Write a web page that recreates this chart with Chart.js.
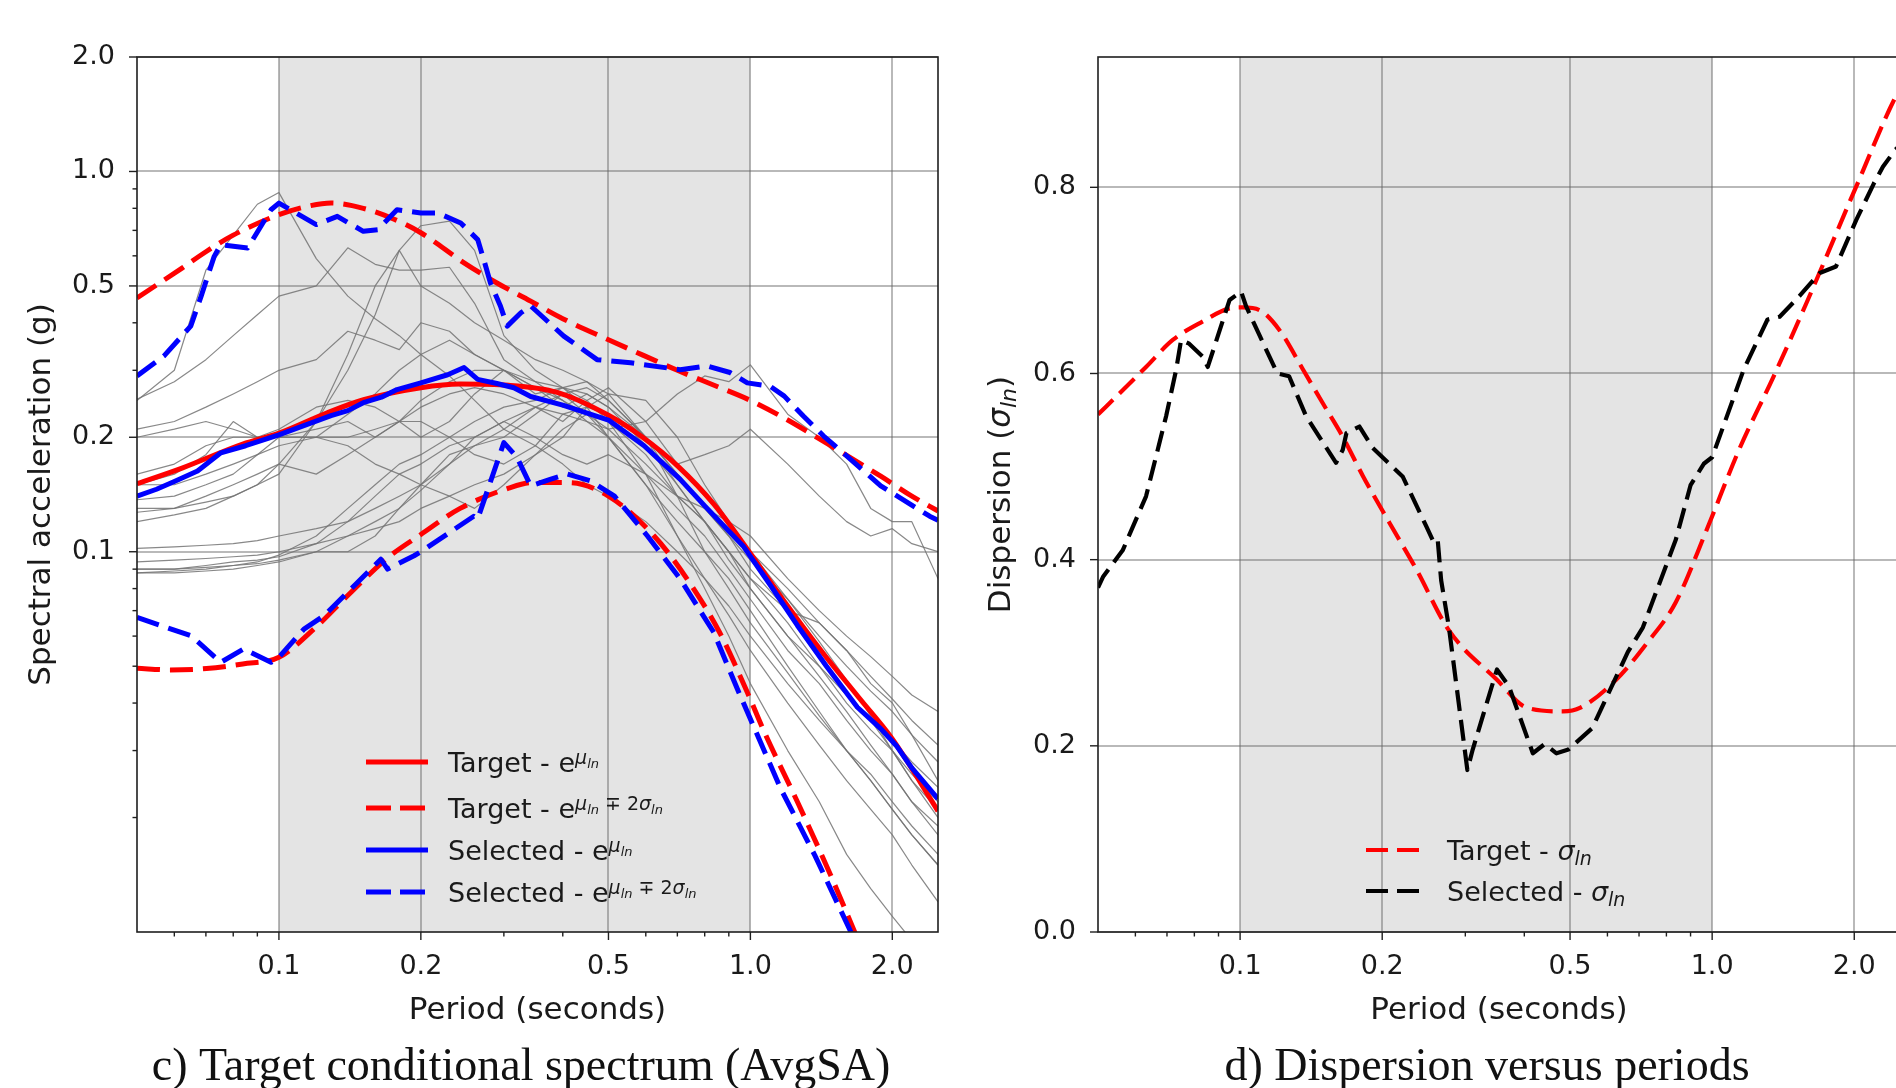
<!DOCTYPE html>
<html>
<head>
<meta charset="utf-8">
<title>Conditional spectrum and dispersion</title>
<script src="https://cdn.jsdelivr.net/npm/chart.js@4.4.1/dist/chart.umd.min.js"></script>
<style>
  html, body { margin: 0; padding: 0; background: #ffffff; width: 1896px; height: 1088px; overflow: hidden; }
  canvas { position: absolute; top: 0; }
  #spectrum { left: 0; }
  #dispersion { left: 960px; }
</style>
</head>
<body>
<canvas id="spectrum" width="960" height="1088"></canvas>
<canvas id="dispersion" width="960" height="1088"></canvas>
<script>
// ---------- axes ----------
const periodRange = [0.05, 2.5];
const saRange = [0.01, 2.0];
const sigmaRange = [0.0, 0.94];
const conditioningBand = [0.1, 1.0];           // periods averaged by AvgSA
const periodTicks = [0.1, 0.2, 0.5, 1.0, 2.0];
const periodMinorTicks = [0.06, 0.07, 0.08, 0.09, 0.3, 0.4, 0.6, 0.7, 0.8, 0.9];
const saTicks = [0.1, 0.2, 0.5, 1.0, 2.0];
const saMinorTicks = [0.02, 0.03, 0.04, 0.05, 0.06, 0.07, 0.08, 0.09, 0.3, 0.4, 0.6, 0.7, 0.8, 0.9];
const sigmaTicks = [0.0, 0.2, 0.4, 0.6, 0.8];

// ---------- target conditional spectrum ----------
const targetMeanT  = [0.05, 0.0623, 0.0838, 0.1, 0.1266, 0.1512, 0.2, 0.2423, 0.3072, 0.3894, 0.5, 0.5878, 0.7015, 0.8383, 1.0, 1.19, 1.42, 1.70, 2.0, 2.5];
const targetMeanSA = [0.151, 0.166, 0.192, 0.205, 0.232, 0.251, 0.270, 0.276, 0.274, 0.2625, 0.2285, 0.201, 0.168, 0.133, 0.099, 0.073, 0.0545, 0.0413, 0.0322, 0.0208];

const targetUpperT  = [0.05, 0.0623, 0.07, 0.08, 0.1, 0.115, 0.129, 0.151, 0.175, 0.2, 0.247, 0.29, 0.342, 0.4, 0.5, 0.557, 0.7, 0.85, 1.0, 1.2, 1.48, 1.89, 2.2, 2.5];
const targetUpperSA = [0.465, 0.557, 0.615, 0.68, 0.77, 0.81, 0.826, 0.80, 0.75, 0.69, 0.575, 0.509, 0.456, 0.41, 0.361, 0.34, 0.30, 0.272, 0.25, 0.222, 0.19, 0.158, 0.14, 0.128];

const targetLowerT  = [0.05, 0.0588, 0.0702, 0.0838, 0.1, 0.1194, 0.1426, 0.1701, 0.2, 0.2423, 0.3072, 0.3456, 0.4128, 0.5, 0.625, 0.733, 0.86, 0.985, 1.07, 1.258, 1.48, 1.67];
const targetLowerSA = [0.0494, 0.0489, 0.0493, 0.0507, 0.0528, 0.0631, 0.0785, 0.0964, 0.111, 0.13, 0.147, 0.152, 0.152, 0.14, 0.11, 0.085, 0.0614, 0.0427, 0.0336, 0.022, 0.0141, 0.0099];

// ---------- selected set statistics ----------
const selectedMeanT  = [0.05, 0.055, 0.06, 0.0672, 0.0753, 0.085, 0.1, 0.11, 0.129, 0.14, 0.151, 0.165, 0.178, 0.2, 0.228, 0.247, 0.264, 0.29, 0.315, 0.342, 0.4, 0.5, 0.595, 0.71, 0.8, 0.965, 1.1, 1.258, 1.45, 1.686, 1.892, 2.04, 2.2, 2.5];
const selectedMeanSA = [0.140, 0.146, 0.153, 0.163, 0.182, 0.19, 0.203, 0.212, 0.228, 0.235, 0.2466, 0.255, 0.267, 0.278, 0.292, 0.305, 0.284, 0.277, 0.27, 0.256, 0.243, 0.222, 0.19, 0.155, 0.132, 0.1036, 0.082, 0.064, 0.05, 0.039, 0.0342, 0.0309, 0.027, 0.0224];

const selectedUpperT  = [0.05, 0.057, 0.065, 0.0684, 0.0729, 0.0753, 0.0858, 0.0962, 0.1, 0.12, 0.133, 0.151, 0.162, 0.178, 0.2, 0.217, 0.243, 0.264, 0.272, 0.281, 0.295, 0.305, 0.326, 0.342, 0.402, 0.473, 0.557, 0.71, 0.81, 0.905, 0.985, 1.10, 1.18, 1.295, 1.43, 1.6, 1.89, 2.4, 2.5];
const selectedUpperSA = [0.29, 0.327, 0.392, 0.47, 0.598, 0.642, 0.629, 0.793, 0.826, 0.725, 0.762, 0.696, 0.703, 0.793, 0.778, 0.778, 0.732, 0.662, 0.586, 0.509, 0.443, 0.392, 0.425, 0.443, 0.369, 0.32, 0.314, 0.301, 0.308, 0.296, 0.278, 0.2725, 0.2566, 0.2274, 0.2015, 0.1786, 0.149, 0.124, 0.121];

const selectedLowerT  = [0.05, 0.0651, 0.0753, 0.0842, 0.0962, 0.1, 0.113, 0.1247, 0.1645, 0.17, 0.1935, 0.2, 0.259, 0.264, 0.3, 0.32, 0.342, 0.376, 0.409, 0.458, 0.515, 0.605, 0.71, 0.836, 0.938, 1.16, 1.37, 1.64];
const selectedLowerSA = [0.0672, 0.0601, 0.0512, 0.0555, 0.0512, 0.0528, 0.0626, 0.0679, 0.0956, 0.090, 0.0976, 0.100, 0.124, 0.122, 0.1936, 0.177, 0.149, 0.155, 0.16, 0.1536, 0.14, 0.11, 0.0848, 0.0614, 0.0436, 0.0238, 0.0159, 0.0099];

// ---------- individual selected records ----------
const recordT = [0.05, 0.06, 0.07, 0.08, 0.09, 0.1, 0.12, 0.14, 0.16, 0.18, 0.2, 0.23, 0.26, 0.3, 0.35, 0.4, 0.45, 0.5, 0.6, 0.7, 0.8, 0.9, 1.0, 1.2, 1.4, 1.6, 1.8, 2.0, 2.2, 2.5];
const rec01 = [0.25, 0.30, 0.55, 0.68, 0.82, 0.88, 0.59, 0.47, 0.41, 0.37, 0.33, 0.29, 0.25, 0.21, 0.19, 0.17, 0.15, 0.14, 0.12, 0.10, 0.085, 0.072, 0.06, 0.045, 0.036, 0.030, 0.026, 0.022, 0.019, 0.016];
const rec02 = [0.252, 0.28, 0.32, 0.37, 0.42, 0.47, 0.5, 0.63, 0.57, 0.55, 0.55, 0.56, 0.45, 0.32, 0.28, 0.25, 0.23, 0.21, 0.17, 0.14, 0.12, 0.10, 0.085, 0.065, 0.05, 0.04, 0.034, 0.03, 0.026, 0.022];
const rec03 = [0.13, 0.13, 0.135, 0.14, 0.15, 0.16, 0.22, 0.33, 0.5, 0.62, 0.72, 0.74, 0.62, 0.37, 0.3, 0.27, 0.24, 0.2, 0.15, 0.12, 0.10, 0.085, 0.07, 0.05, 0.038, 0.03, 0.025, 0.021, 0.018, 0.015];
const rec04 = [0.12, 0.125, 0.13, 0.14, 0.15, 0.17, 0.22, 0.3, 0.42, 0.62, 0.5, 0.45, 0.4, 0.36, 0.32, 0.3, 0.28, 0.25, 0.2, 0.16, 0.13, 0.11, 0.09, 0.07, 0.055, 0.045, 0.038, 0.032, 0.028, 0.024];
const rec05 = [0.09, 0.09, 0.092, 0.094, 0.095, 0.097, 0.105, 0.12, 0.14, 0.16, 0.17, 0.19, 0.2, 0.22, 0.24, 0.23, 0.22, 0.21, 0.22, 0.26, 0.29, 0.28, 0.31, 0.23, 0.2, 0.17, 0.13, 0.12, 0.12, 0.085];
const rec06 = [0.088, 0.089, 0.09, 0.092, 0.094, 0.098, 0.11, 0.13, 0.15, 0.17, 0.18, 0.2, 0.22, 0.24, 0.25, 0.27, 0.26, 0.24, 0.2, 0.17, 0.18, 0.19, 0.21, 0.17, 0.14, 0.12, 0.11, 0.115, 0.105, 0.10];
const rec07 = [0.16, 0.17, 0.19, 0.2, 0.2, 0.2, 0.21, 0.22, 0.2, 0.22, 0.25, 0.28, 0.3, 0.3, 0.27, 0.25, 0.22, 0.2, 0.16, 0.13, 0.11, 0.09, 0.075, 0.055, 0.045, 0.036, 0.03, 0.026, 0.022, 0.018];
const rec08 = [0.2, 0.21, 0.22, 0.21, 0.2, 0.2, 0.2, 0.19, 0.17, 0.16, 0.15, 0.17, 0.19, 0.21, 0.24, 0.26, 0.27, 0.25, 0.2, 0.15, 0.12, 0.1, 0.08, 0.06, 0.047, 0.038, 0.031, 0.026, 0.022, 0.019];
const rec09 = [0.15, 0.16, 0.18, 0.22, 0.2, 0.21, 0.24, 0.25, 0.24, 0.22, 0.2, 0.22, 0.26, 0.3, 0.27, 0.24, 0.26, 0.24, 0.19, 0.15, 0.12, 0.095, 0.08, 0.06, 0.05, 0.042, 0.036, 0.03, 0.025, 0.021];
const rec10 = [0.137, 0.14, 0.15, 0.16, 0.18, 0.2, 0.2, 0.2, 0.21, 0.22, 0.24, 0.26, 0.27, 0.26, 0.24, 0.22, 0.25, 0.27, 0.22, 0.17, 0.14, 0.12, 0.1, 0.08, 0.065, 0.055, 0.047, 0.041, 0.036, 0.031];
const rec11 = [0.127, 0.13, 0.14, 0.15, 0.16, 0.17, 0.16, 0.18, 0.2, 0.22, 0.22, 0.2, 0.18, 0.17, 0.19, 0.23, 0.24, 0.23, 0.2, 0.16, 0.13, 0.11, 0.095, 0.075, 0.06, 0.05, 0.043, 0.038, 0.033, 0.028];
const rec12 = [0.102, 0.103, 0.104, 0.105, 0.107, 0.11, 0.115, 0.12, 0.13, 0.14, 0.15, 0.14, 0.13, 0.15, 0.18, 0.21, 0.23, 0.22, 0.18, 0.14, 0.12, 0.1, 0.085, 0.07, 0.065, 0.055, 0.045, 0.04, 0.033, 0.025];
const rec13 = [0.094, 0.095, 0.096, 0.097, 0.098, 0.1, 0.105, 0.11, 0.115, 0.12, 0.13, 0.14, 0.15, 0.16, 0.18, 0.2, 0.24, 0.26, 0.25, 0.2, 0.15, 0.12, 0.1, 0.075, 0.058, 0.046, 0.037, 0.03, 0.025, 0.02];
const rec14 = [0.09, 0.09, 0.091, 0.092, 0.093, 0.095, 0.1, 0.11, 0.12, 0.13, 0.145, 0.17, 0.2, 0.22, 0.2, 0.18, 0.17, 0.18, 0.16, 0.14, 0.13, 0.12, 0.11, 0.085, 0.07, 0.06, 0.053, 0.047, 0.042, 0.038];
const rec15 = [0.088, 0.088, 0.089, 0.09, 0.092, 0.094, 0.1, 0.1, 0.11, 0.13, 0.15, 0.18, 0.19, 0.2, 0.23, 0.26, 0.23, 0.2, 0.15, 0.11, 0.085, 0.068, 0.055, 0.04, 0.031, 0.025, 0.021, 0.018, 0.015, 0.012];
const rec16 = [0.21, 0.22, 0.24, 0.26, 0.28, 0.3, 0.32, 0.38, 0.36, 0.34, 0.4, 0.38, 0.33, 0.3, 0.26, 0.27, 0.28, 0.26, 0.2, 0.14, 0.1, 0.08, 0.065, 0.048, 0.037, 0.03, 0.025, 0.021, 0.018, 0.015];
const rec17 = [0.15, 0.15, 0.16, 0.17, 0.18, 0.19, 0.2, 0.23, 0.26, 0.3, 0.33, 0.36, 0.33, 0.3, 0.28, 0.27, 0.25, 0.22, 0.16, 0.11, 0.08, 0.06, 0.045, 0.03, 0.022, 0.016, 0.013, 0.011, 0.0095, 0.008];
const records = [rec01, rec02, rec03, rec04, rec05, rec06, rec07, rec08, rec09, rec10, rec11, rec12, rec13, rec14, rec15, rec16, rec17];

// ---------- dispersion ----------
const targetSigmaT = [0.05, 0.0564, 0.0632, 0.072, 0.0834, 0.095, 0.1013, 0.11, 0.121, 0.136, 0.1497, 0.165, 0.182, 0.207, 0.236, 0.277, 0.35, 0.405, 0.483, 0.526, 0.626, 0.724, 0.837, 0.97, 1.14, 1.35, 1.585, 2.02, 2.44, 2.5];
const targetSigma  = [0.556, 0.582, 0.607, 0.636, 0.656, 0.670, 0.671, 0.668, 0.647, 0.604, 0.568, 0.532, 0.49, 0.44, 0.39, 0.324, 0.271, 0.241, 0.237, 0.241, 0.271, 0.309, 0.354, 0.43, 0.518, 0.597, 0.676, 0.801, 0.896, 0.905];

const selectedSigmaT = [0.05, 0.0513, 0.0564, 0.0632, 0.0697, 0.0732, 0.075, 0.078, 0.0834, 0.0854, 0.095, 0.1005, 0.103, 0.1154, 0.12, 0.127, 0.138, 0.1597, 0.165, 0.168, 0.179, 0.191, 0.2212, 0.2479, 0.2559, 0.262, 0.2666, 0.277, 0.303, 0.311, 0.35, 0.371, 0.417, 0.442, 0.468, 0.496, 0.557, 0.663, 0.713, 0.837, 0.9, 0.96, 1.0, 1.166, 1.31, 1.39, 1.53, 1.69, 1.83, 2.02, 2.2, 2.3, 2.44, 2.5];
const selectedSigma  = [0.37, 0.382, 0.41, 0.468, 0.554, 0.604, 0.636, 0.632, 0.618, 0.607, 0.679, 0.688, 0.672, 0.618, 0.600, 0.597, 0.554, 0.504, 0.518, 0.536, 0.543, 0.52, 0.489, 0.436, 0.421, 0.423, 0.378, 0.327, 0.174, 0.196, 0.282, 0.264, 0.192, 0.202, 0.192, 0.196, 0.219, 0.301, 0.327, 0.421, 0.48, 0.503, 0.51, 0.604, 0.658, 0.661, 0.683, 0.708, 0.715, 0.765, 0.804, 0.822, 0.84, 0.845];

// ---------- styling ----------
const FONT = '"DejaVu Sans", sans-serif';
const SERIF = '"Liberation Serif", "Times New Roman", serif';
const TEXT = '#1a1a1a';
const RED = '#ff0000', BLUE = '#0000ff', BLACK = '#000000', GREY = 'rgba(115,115,115,0.85)';
const GRID = 'rgba(100,100,100,0.45)';
const SHADE = '#e4e4e4';
const DASH_L = [23, 10];
const DASH_R = [21, 9];
const TICK_FONT = 27, LABEL_FONT = 31;

Chart.defaults.font.family = FONT;
Chart.defaults.color = TEXT;

const xy = (xs, ys) => xs.map((x, i) => ({ x: x, y: ys[i] }));

function series(data, color, width, dash, smooth) {
  return {
    data: data, borderColor: color, backgroundColor: color, borderWidth: width,
    borderDash: dash || [], pointRadius: 0, fill: false, tension: 0,
    cubicInterpolationMode: smooth ? 'monotone' : 'default',
    borderJoinStyle: 'round', clip: 0
  };
}

// draws a run of text pieces: [text, size, italic, dy]
function richWidth(ctx, runs) {
  let w = 0;
  for (const r of runs) { ctx.font = (r[2] ? 'italic ' : '') + r[1] + 'px ' + FONT; w += ctx.measureText(r[0]).width; }
  return w;
}
function drawRich(ctx, x, y, runs) {
  let cx = x;
  for (const r of runs) {
    ctx.font = (r[2] ? 'italic ' : '') + r[1] + 'px ' + FONT;
    ctx.fillText(r[0], cx, y + r[3]);
    cx += ctx.measureText(r[0]).width;
  }
}

const muRuns = head => [[head + 'e', 27, false, 0], ['μ', 19, true, -8], ['ln', 13, true, -4]];
const mpRuns = head => [[head + 'e', 27, false, 0], ['μ', 19, true, -8], ['ln', 13, true, -4],
                        [' ∓ 2', 19, false, -8], ['σ', 19, true, -8], ['ln', 13, true, -4]];
const sigmaRuns = head => [[head, 27, false, 0], ['σ', 27, true, 0], ['ln', 19, true, 5]];

function decorations(opts) {
  return {
    id: 'decorations',
    beforeDraw(chart) {
      const ctx = chart.ctx, a = chart.chartArea, x = chart.scales.x;
      ctx.save();
      ctx.fillStyle = '#ffffff';
      ctx.fillRect(0, 0, chart.width, chart.height);
      const x0 = x.getPixelForValue(conditioningBand[0]);
      const x1 = x.getPixelForValue(conditioningBand[1]);
      ctx.fillStyle = SHADE;
      ctx.fillRect(x0, a.top, x1 - x0, a.bottom - a.top);
      ctx.restore();
    },
    afterDraw(chart) {
      const ctx = chart.ctx, a = chart.chartArea, x = chart.scales.x, y = chart.scales.y;
      ctx.save();
      // frame
      ctx.strokeStyle = '#1f1f1f';
      ctx.lineWidth = 1.6;
      ctx.strokeRect(a.left, a.top, a.right - a.left, a.bottom - a.top);
      // tick marks
      ctx.lineWidth = 1.4;
      const tickX = (v, len) => { const p = x.getPixelForValue(v); ctx.beginPath(); ctx.moveTo(p, a.bottom); ctx.lineTo(p, a.bottom + len); ctx.stroke(); };
      const tickY = (v, len) => { const p = y.getPixelForValue(v); ctx.beginPath(); ctx.moveTo(a.left, p); ctx.lineTo(a.left - len, p); ctx.stroke(); };
      periodTicks.forEach(v => tickX(v, 8));
      periodMinorTicks.forEach(v => tickX(v, 4.5));
      opts.yMajor.forEach(v => tickY(v, 8));
      opts.yMinor.forEach(v => tickY(v, 4.5));
      // axis titles
      ctx.fillStyle = TEXT;
      ctx.textBaseline = 'alphabetic';
      ctx.textAlign = 'left';
      ctx.font = LABEL_FONT + 'px ' + FONT;
      const xt = 'Period (seconds)';
      const xw = ctx.measureText(xt).width;
      ctx.fillText(xt, (a.left + a.right) / 2 - xw / 2, 1019);
      const yw = richWidth(ctx, opts.yTitle);
      ctx.save();
      ctx.translate(50, (a.top + a.bottom) / 2);
      ctx.rotate(-Math.PI / 2);
      drawRich(ctx, -yw / 2, 0, opts.yTitle);
      ctx.restore();
      // legend
      const lg = opts.legend;
      for (const row of lg.rows) {
        ctx.save();
        ctx.strokeStyle = row.color;
        ctx.lineWidth = row.width;
        ctx.setLineDash(row.dash);
        ctx.beginPath();
        ctx.moveTo(lg.x0, row.y);
        ctx.lineTo(lg.x1, row.y);
        ctx.stroke();
        ctx.restore();
        ctx.fillStyle = TEXT;
        drawRich(ctx, lg.textX, row.y + 10, row.runs);
      }
      // caption
      ctx.fillStyle = '#111111';
      ctx.font = '46px ' + SERIF;
      ctx.textAlign = 'center';
      ctx.fillText(opts.caption, opts.captionX, 1080);
      ctx.restore();
    }
  };
}

function periodAxis() {
  return {
    type: 'logarithmic', min: periodRange[0], max: periodRange[1],
    afterBuildTicks: s => { s.ticks = periodTicks.map(v => ({ value: v })); },
    afterFit: s => { s.height = 156; },
    grid: { color: GRID, lineWidth: 2, drawTicks: false },
    border: { display: false },
    ticks: { callback: v => Number(v).toFixed(1), font: { size: TICK_FONT }, color: TEXT, padding: 19, autoSkip: false, maxRotation: 0, minRotation: 0 }
  };
}

// ---------- c) conditional spectrum ----------
const spectrumSets = [
  series(xy(selectedUpperT, selectedUpperSA), BLUE, 5, DASH_L, false),
  series(xy(selectedLowerT, selectedLowerSA), BLUE, 5, DASH_L, false),
  series(xy(selectedMeanT, selectedMeanSA), BLUE, 5, [], false),
  series(xy(targetUpperT, targetUpperSA), RED, 5, DASH_L, true),
  series(xy(targetLowerT, targetLowerSA), RED, 5, DASH_L, true),
  series(xy(targetMeanT, targetMeanSA), RED, 5, [], true)
].concat(records.map(r => series(xy(recordT, r), GREY, 1.2, [], false)));

new Chart(document.getElementById('spectrum'), {
  type: 'line',
  data: { datasets: spectrumSets },
  options: {
    responsive: false, animation: false, events: [],
    layout: { padding: { left: 0, right: 22, top: 57, bottom: 0 } },
    plugins: { legend: { display: false }, tooltip: { enabled: false } },
    scales: {
      x: periodAxis(),
      y: {
        type: 'logarithmic', min: saRange[0], max: saRange[1],
        afterBuildTicks: s => { s.ticks = saTicks.map(v => ({ value: v })); },
        afterFit: s => { s.width = 137; },
        grid: { color: GRID, lineWidth: 2, drawTicks: false },
        border: { display: false },
        ticks: { callback: v => Number(v).toFixed(1), font: { size: TICK_FONT }, color: TEXT, padding: 22, autoSkip: false }
      }
    }
  },
  plugins: [decorations({
    yMajor: saTicks, yMinor: saMinorTicks,
    yTitle: [['Spectral acceleration (g)', LABEL_FONT, false, 0]],
    legend: {
      x0: 366, x1: 428, textX: 448,
      rows: [
        { y: 762, color: RED,  width: 5, dash: [],       runs: muRuns('Target - ') },
        { y: 808, color: RED,  width: 5, dash: [25, 9],  runs: mpRuns('Target - ') },
        { y: 850, color: BLUE, width: 5, dash: [],       runs: muRuns('Selected - ') },
        { y: 892, color: BLUE, width: 5, dash: [25, 9],  runs: mpRuns('Selected - ') }
      ]
    },
    caption: 'c) Target conditional spectrum (AvgSA)', captionX: 521
  })]
});

// ---------- d) dispersion ----------
new Chart(document.getElementById('dispersion'), {
  type: 'line',
  data: {
    datasets: [
      series(xy(selectedSigmaT, selectedSigma), BLACK, 4.2, DASH_R, false),
      series(xy(targetSigmaT, targetSigma), RED, 4.2, DASH_R, true)
    ]
  },
  options: {
    responsive: false, animation: false, events: [],
    layout: { padding: { left: 0, right: 20, top: 57, bottom: 0 } },
    plugins: { legend: { display: false }, tooltip: { enabled: false } },
    scales: {
      x: periodAxis(),
      y: {
        type: 'linear', min: sigmaRange[0], max: sigmaRange[1],
        afterBuildTicks: s => { s.ticks = sigmaTicks.map(v => ({ value: v })); },
        afterFit: s => { s.width = 138; },
        grid: { color: GRID, lineWidth: 2, drawTicks: false },
        border: { display: false },
        ticks: { callback: v => Number(v).toFixed(1), font: { size: TICK_FONT }, color: TEXT, padding: 22, autoSkip: false }
      }
    }
  },
  plugins: [decorations({
    yMajor: sigmaTicks, yMinor: [],
    yTitle: [['Dispersion (', LABEL_FONT, false, 0], ['σ', LABEL_FONT, true, 0], ['ln', 22, true, 6], [')', LABEL_FONT, false, 0]],
    legend: {
      x0: 406, x1: 463, textX: 487,
      rows: [
        { y: 850, color: RED,   width: 4.2, dash: [22, 9], runs: sigmaRuns('Target - ') },
        { y: 891, color: BLACK, width: 4.2, dash: [22, 9], runs: sigmaRuns('Selected - ') }
      ]
    },
    caption: 'd) Dispersion versus periods', captionX: 527
  })]
});
</script>
</body>
</html>
